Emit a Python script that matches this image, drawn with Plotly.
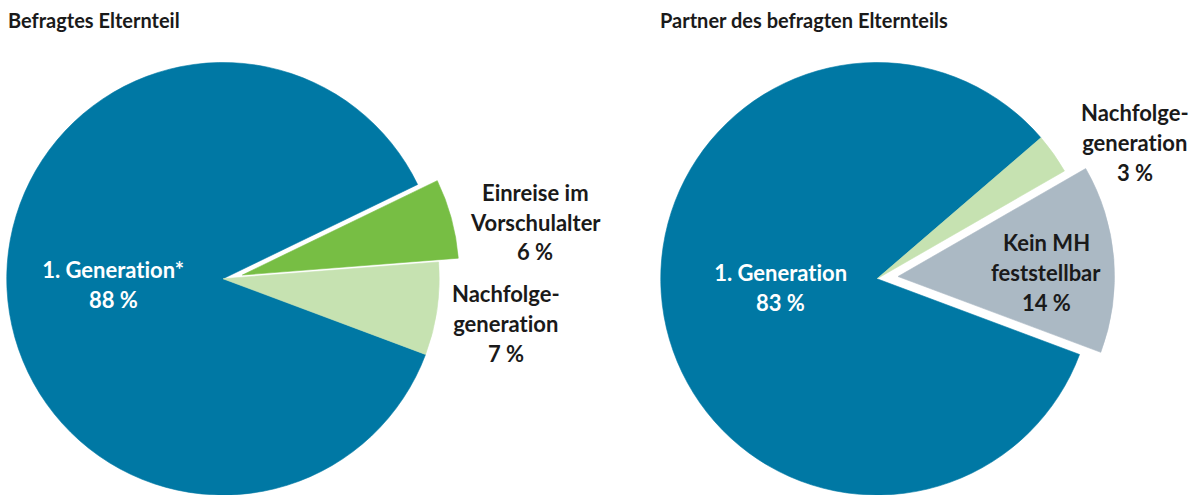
import plotly.graph_objects as go

# ---------------- data ----------------
titles = ["Befragtes Elternteil", "Partner des befragten Elternteils"]

left_categories = ["1. Generation", "Einreise im Vorschulalter", "Nachfolgegeneration"]
left_values = [88, 6, 7]
left_label_lines = [["1. Generation*"], ["Einreise im", "Vorschulalter"], ["Nachfolge-", "generation"]]

right_categories = ["1. Generation", "Nachfolgegeneration", "Kein MH feststellbar"]
right_values = [83, 3, 14]
right_label_lines = [["1. Generation"], ["Nachfolge-", "generation"], ["Kein MH", "feststellbar"]]

# ---------------- styles ----------------
W, H = 1194, 495
BLUE = "#0078A4"
GREEN = "#77BE44"
LIGHTGREEN = "#C6E2B1"
GREY = "#ABB9C4"
CLEAR = "rgba(0,0,0,0)"
DARK = "#1A1A1A"
FONT = "Lato"

left_colors = [BLUE, GREEN, LIGHTGREEN]
right_colors = [BLUE, LIGHTGREEN, GREY]
left_pulled = 1
right_pulled = 2

ROT = 110.5
R = 216.5


def domain(cx, cy, r):
    return dict(x=[(cx - r) / W, (cx + r) / W],
                y=[max(0.0, 1 - (cy + r) / H), min(1.0, 1 - (cy - r) / H)])


def pie_traces(cats, vals, colors, pulled, cx, cy, off):
    base_cols = [CLEAR if i == pulled else c for i, c in enumerate(colors)]
    pull_cols = [c if i == pulled else CLEAR for i, c in enumerate(colors)]
    common = dict(labels=cats, values=vals, sort=False, direction="clockwise",
                  rotation=ROT, textinfo="none", showlegend=False,
                  hovertemplate="%{label}: %{value} %<extra></extra>")
    t1 = go.Pie(domain=domain(cx, cy, R),
                marker=dict(colors=base_cols, line=dict(color=base_cols, width=0.6)),
                **common)
    t2 = go.Pie(domain=domain(cx + off[0], cy + off[1], R),
                marker=dict(colors=pull_cols, line=dict(color=pull_cols, width=0.6)),
                **common)
    return [t1, t2]


fig = go.Figure()
for t in pie_traces(left_categories, left_values, left_colors, left_pulled, 223, 279, (19.4, -4.0)):
    fig.add_trace(t)
for t in pie_traces(right_categories, right_values, right_colors, right_pulled, 877, 279, (21.0, -2.5)):
    fig.add_trace(t)

annotations = []


def px_ann(text, x, y, color, size, xanchor="center"):
    annotations.append(dict(text=text, x=x / W, y=1 - y / H, xref="paper", yref="paper",
                            xanchor=xanchor, yanchor="middle", showarrow=False,
                            font=dict(family=FONT, size=size, color=color, weight="bold")))


# titles
px_ann(titles[0], 6, 20, DARK, 20, "left")
px_ann(titles[1], 658, 20, DARK, 20, "left")

LS = 30  # line spacing in px


def label_block(lines, value, cx, y0, color, size=22):
    allines = lines + [f"{value} %"]
    for k, line in enumerate(allines):
        px_ann(line, cx, y0 + k * LS, color, size)


# left pie labels
label_block(left_label_lines[0], left_values[0], 113, 269, "white")
label_block(left_label_lines[1], left_values[1], 535, 192, DARK)
label_block(left_label_lines[2], left_values[2], 506, 293, DARK)
# right pie labels
label_block(right_label_lines[0], right_values[0], 780, 272, "white")
label_block(right_label_lines[1], right_values[1], 1135, 112, DARK)
label_block(right_label_lines[2], right_values[2], 1046, 242, DARK)

fig.update_layout(width=W, height=H, margin=dict(l=0, r=0, t=0, b=0),
                  paper_bgcolor="white", plot_bgcolor="white",
                  annotations=annotations)

css = ("var s=document.createElement('style');"
       "s.textContent='html,body{margin:0;padding:0;overflow:hidden}"
       " text{font-variant-ligatures:none;font-feature-settings:\"liga\" 0,\"clig\" 0}';"
       "document.head.appendChild(s);")
fig.write_html("out.html", post_script=css, config={"displayModeBar": False})
